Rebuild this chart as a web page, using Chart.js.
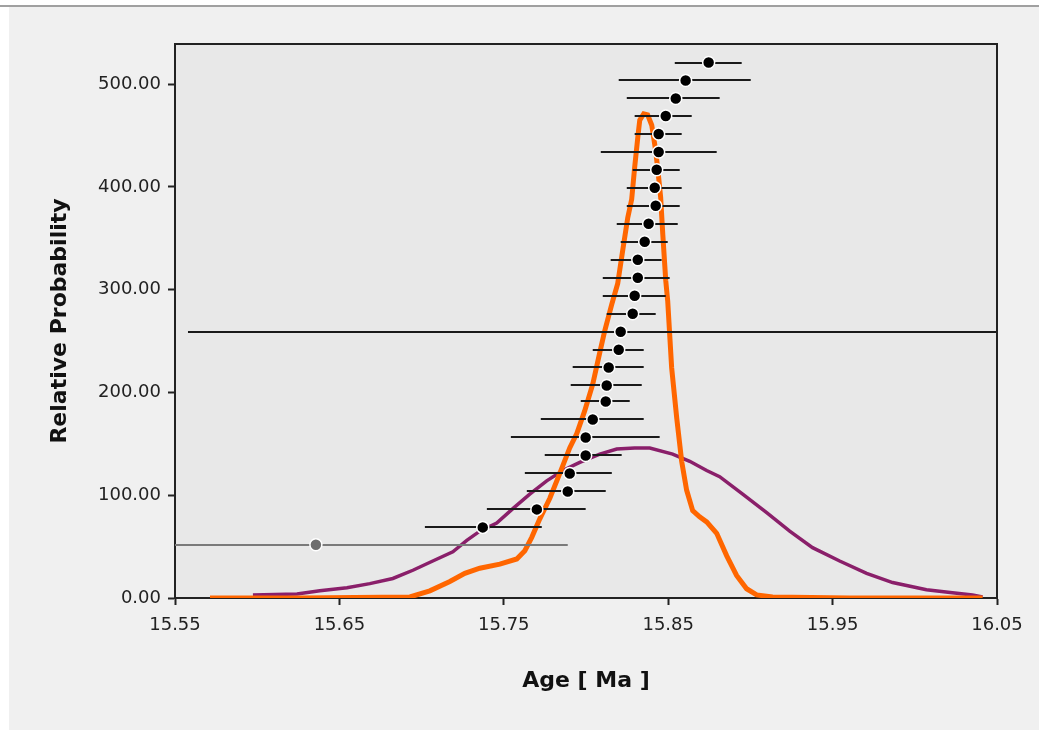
<!DOCTYPE html>
<html>
<head>
<meta charset="utf-8">
<script src="https://cdn.jsdelivr.net/npm/chart.js@4"></script>
<style>
  html, body { margin: 0; padding: 0; background: #fff; }
  #wrap { position: relative; width: 1039px; height: 730px; overflow: hidden; }
  #panel { position: absolute; left: 9px; top: 7px; right: 0; bottom: 0; background: #f0f0f0; }
  #topline { position: absolute; left: 0; top: 5px; width: 1039px; height: 2px; background: #a0a0a0; }
  canvas { position: absolute; left: 0; top: 0; }
</style>
</head>
<body>
<div id="wrap">
  <div id="panel"></div>
  <div id="topline"></div>
  <canvas id="chart" width="1039" height="730"></canvas>
</div>
<script>
const xTicks = [15.55, 15.65, 15.75, 15.85, 15.95, 16.05];
const yTicks = [0, 100, 200, 300, 400, 500];

// probability density curves
const orangeAge = [15.5713, 15.6260, 15.6929, 15.7050, 15.7172, 15.7263, 15.7354, 15.7476, 15.7579, 15.7628,
  15.7670, 15.7719, 15.7780, 15.7840, 15.7901, 15.7944, 15.7992, 15.8041, 15.8084, 15.8114,
  15.8157, 15.8193, 15.8223, 15.8254, 15.8278, 15.8296, 15.8315, 15.8327, 15.8351, 15.8375,
  15.8400, 15.8424, 15.8442, 15.8454, 15.8467, 15.8485, 15.8497, 15.8521, 15.8552, 15.8582,
  15.8612, 15.8649, 15.8691, 15.8734, 15.8795, 15.8856, 15.8916, 15.8977, 15.9038, 15.9135,
  15.9603, 16.0412];
const orangeProb = [0, 0, 1, 7, 16, 24, 29, 33, 38, 46,
  59, 77, 97, 121, 146, 160, 182, 208, 239, 260,
  286, 306, 338, 370, 388, 419, 448, 465, 471, 470,
  460, 435, 409, 390, 354, 309, 289, 224, 175, 133,
  105, 85, 79, 74, 63, 41, 22, 9, 3, 1,
  0, 0];

const purpleAge = [15.5974, 15.6242, 15.6381, 15.6546, 15.6685, 15.6825, 15.6947, 15.7068, 15.7190, 15.7275,
  15.7354, 15.7457, 15.7555, 15.7658, 15.7761, 15.7859, 15.7962, 15.8084, 15.8187, 15.8296,
  15.8388, 15.8527, 15.8631, 15.8734, 15.8813, 15.8953, 15.9099, 15.9239, 15.9378, 15.9543,
  15.9707, 15.9865, 16.0071, 16.0229, 16.0351, 16.0412];
const purpleProb = [3, 4, 7, 10, 14, 19, 27, 36, 45, 56,
  65, 73, 87, 101, 114, 124, 132, 140, 145, 146,
  146, 140, 133, 124, 118, 101, 83, 65, 49, 36,
  24, 15, 8, 5, 3, 1];

// individual ages with error bars (last one is the rejected grain)
const grainY = [521.0, 503.5, 486.0, 468.9, 451.4, 433.9, 416.6, 399.1, 381.6, 364.1,
  346.6, 329.1, 311.6, 294.1, 276.6, 259.0, 241.5, 224.3, 206.8, 191.2,
  173.7, 156.2, 138.7, 121.2, 103.7, 86.2, 68.7, 51.8];
const grainAge = [15.8746, 15.8606, 15.8546, 15.8485, 15.8442, 15.8442, 15.8430, 15.8418, 15.8424, 15.8381,
  15.8357, 15.8315, 15.8315, 15.8296, 15.8284, 15.8211, 15.8199, 15.8138, 15.8126, 15.8120,
  15.8041, 15.7998, 15.7998, 15.7901, 15.7889, 15.7701, 15.7372, 15.6357];
const grainLo = [15.8540, 15.8199, 15.8248, 15.8296, 15.8296, 15.8090, 15.8284, 15.8248, 15.8248, 15.8187,
  15.8211, 15.8150, 15.8102, 15.8102, 15.8126, 15.5579, 15.8041, 15.7919, 15.7907, 15.7968,
  15.7725, 15.7543, 15.7749, 15.7628, 15.7640, 15.7397, 15.7020, 15.4825];
const grainHi = [15.8947, 15.9002, 15.8813, 15.8643, 15.8582, 15.8795, 15.8570, 15.8582, 15.8570, 15.8558,
  15.8497, 15.8460, 15.8509, 15.8485, 15.8424, 16.0843, 15.8351, 15.8351, 15.8339, 15.8266,
  15.8351, 15.8448, 15.8217, 15.8157, 15.8120, 15.7998, 15.7731, 15.7889];

const lastIdx = grainY.length - 1;
const tickFont = { family: 'DejaVu Sans', size: 18 };
const titleFont = { family: 'DejaVu Sans', size: 22, weight: 'bold' };

// plot background + top/right frame
const frame = {
  id: 'frame',
  beforeDraw(chart) {
    const { ctx, chartArea: a } = chart;
    ctx.save();
    ctx.fillStyle = '#e8e8e8';
    ctx.fillRect(a.left, a.top, a.right - a.left, a.bottom - a.top);
    ctx.restore();
  },
  afterDraw(chart) {
    const { ctx, chartArea: a } = chart;
    ctx.save();
    ctx.strokeStyle = '#222';
    ctx.lineWidth = 2;
    ctx.beginPath();
    ctx.moveTo(a.left, a.top);
    ctx.lineTo(a.right, a.top);
    ctx.lineTo(a.right, a.bottom);
    ctx.stroke();
    ctx.restore();
  }
};

// horizontal error bars drawn just before the dots
const errorBars = {
  id: 'errorBars',
  beforeDatasetDraw(chart, args) {
    if (args.index !== 0) return;
    const { ctx, chartArea: a, scales: { x, y } } = chart;
    ctx.save();
    ctx.beginPath();
    ctx.rect(a.left, a.top, a.right - a.left, a.bottom - a.top);
    ctx.clip();
    ctx.lineWidth = 2;
    grainY.forEach((v, i) => {
      const py = Math.round(y.getPixelForValue(v));
      ctx.strokeStyle = i === lastIdx ? '#7a7a7a' : '#1a1a1a';
      ctx.beginPath();
      ctx.moveTo(x.getPixelForValue(grainLo[i]), py);
      ctx.lineTo(x.getPixelForValue(grainHi[i]), py);
      ctx.stroke();
    });
    ctx.restore();
  }
};

new Chart(document.getElementById('chart'), {
  type: 'scatter',
  data: {
    datasets: [
      {
        data: grainAge.map((a, i) => ({ x: a, y: grainY[i] })),
        pointRadius: 6,
        pointBackgroundColor: grainY.map((v, i) => i === lastIdx ? '#6e6e6e' : '#000'),
        pointBorderColor: '#fff',
        pointBorderWidth: 1.5,
        order: 0
      },
      {
        data: orangeAge.map((a, i) => ({ x: a, y: orangeProb[i] })),
        showLine: true,
        borderColor: '#ff6600',
        borderWidth: 5,
        pointRadius: 0,
        order: 2
      },
      {
        data: purpleAge.map((a, i) => ({ x: a, y: purpleProb[i] })),
        showLine: true,
        borderColor: '#8a1f6a',
        borderWidth: 3.5,
        pointRadius: 0,
        order: 3
      }
    ]
  },
  options: {
    responsive: false,
    animation: false,
    layout: { padding: { left: 0, top: 44, right: 42, bottom: 0 } },
    plugins: { legend: { display: false }, tooltip: { enabled: false } },
    scales: {
      x: {
        type: 'linear',
        min: 15.55,
        max: 16.05,
        afterBuildTicks: s => { s.ticks = xTicks.map(v => ({ value: v })); },
        afterFit: s => { s.height = 132; },
        grid: { drawOnChartArea: false, tickLength: 7, tickColor: '#222', tickWidth: 2 },
        border: { color: '#222', width: 2 },
        ticks: { font: tickFont, color: '#222', padding: 10, maxRotation: 0,
          callback: v => v.toFixed(2) },
        title: { display: true, text: 'Age [ Ma ]', font: titleFont, color: '#111',
          padding: { top: 0, bottom: 36 } }
      },
      y: {
        min: 0,
        max: 539,
        afterBuildTicks: s => { s.ticks = yTicks.map(v => ({ value: v })); },
        afterFit: s => { s.width = 175; },
        grid: { drawOnChartArea: false, tickLength: 7, tickColor: '#222', tickWidth: 2 },
        border: { color: '#222', width: 2 },
        ticks: { font: tickFont, color: '#222', padding: 7,
          callback: v => v.toFixed(2) },
        title: { display: true, text: 'Relative Probability', font: titleFont, color: '#111',
          padding: { top: 47, bottom: 0 } }
      }
    }
  },
  plugins: [frame, errorBars]
});
</script>
</body>
</html>
